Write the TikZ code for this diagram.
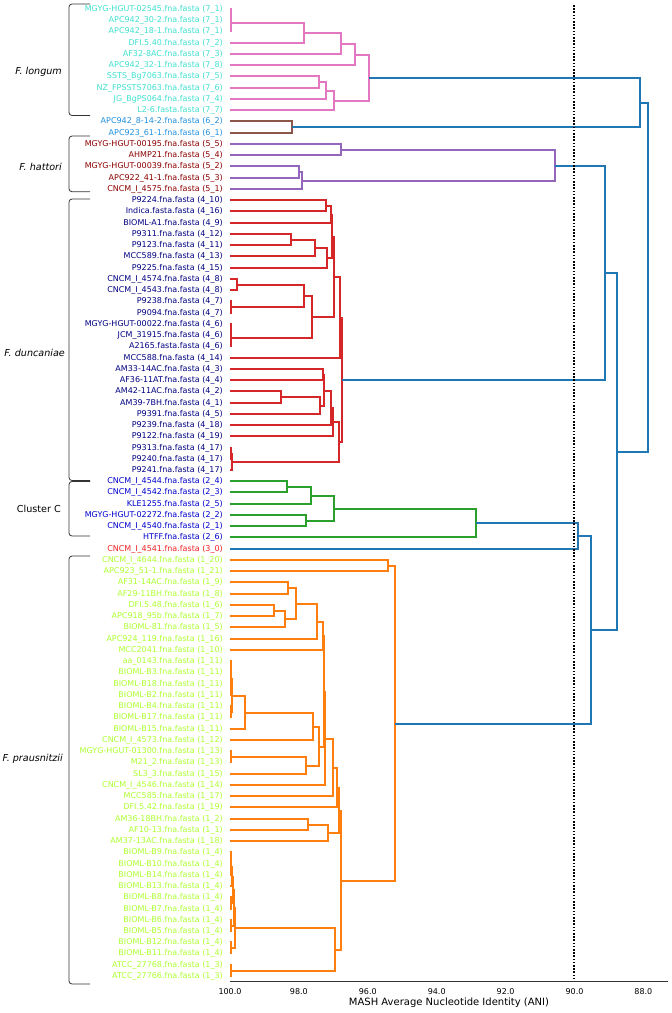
\documentclass[tikz,border=0pt]{standalone}
\usepackage{fontspec}
\setmainfont{DejaVu Sans}
\usetikzlibrary{calc,positioning}
\definecolor{lngtxt}{HTML}{40E0D0}
\definecolor{sixtxt}{HTML}{2090E0}
\definecolor{hattxt}{HTML}{8B0000}
\definecolor{duntxt}{HTML}{000080}
\definecolor{clctxt}{HTML}{0000CD}
\definecolor{thrtxt}{HTML}{F02020}
\definecolor{prstxt}{HTML}{ADFF2F}
\definecolor{pnk}{HTML}{E377C2}
\definecolor{brn}{HTML}{8C564B}
\definecolor{ppl}{HTML}{9467BD}
\definecolor{rd}{HTML}{D62728}
\definecolor{grn}{HTML}{2CA02C}
\definecolor{org}{HTML}{FF7F0E}
\definecolor{blu}{HTML}{1F77B4}
\definecolor{dkgray}{HTML}{333333}
\tikzset{
  leaf/.style={anchor=east,inner sep=0pt,font=\fontsize{8}{9}\selectfont,text=#1},
  grplbl/.style={anchor=east,inner sep=0pt,font=\fontsize{9.6}{11}\selectfont},
  sp/.style={grplbl,font=\fontsize{9.6}{11}\selectfont\itshape},
  lnk/.style={line width=1.6pt,draw=#1},
  brk/.style={draw=dkgray,line width=0.8pt,rounded corners=3pt},
  axs/.style={draw=dkgray,line width=0.8pt},
  cut/.style={draw=black,line width=1.8pt,dash pattern=on 1.6pt off 1.6pt},
  tck/.style={inner sep=0pt,font=\fontsize{8}{9}\selectfont},
}
% one U-shaped link: name, child, child, x, colour
\newcommand{\mrg}[5]{%
  \path let \p1=(#2), \p2=(#3), \n1={round(0.5*(\y1+\y2))} in
    coordinate (#1) at ({round(#4)*1pt},{\n1*1pt});
  \draw[lnk=#5] (#2) -| (#1) |- (#3);
}
% one leaf: index, text, colour
\newcommand{\lf}[3]{%
  \node[leaf=#3] (t#1) at (223,{round(9+11.244*#1)}) {#2};
  \coordinate (l#1) at (230,{round(9+11.244*#1)});
}

\begin{document}
\begin{tikzpicture}[x=1pt,y=-1pt]
  \useasboundingbox (0,0) rectangle (672,1013);

  % leaf labels
  \foreach \t [count=\i from 0] in {MGYG-HGUT-02545.fna.fasta (7\_1),APC942\_30-2.fna.fasta (7\_1),
      APC942\_18-1.fna.fasta (7\_1),DFI.5.40.fna.fasta (7\_2),AF32-8AC.fna.fasta (7\_3),
      APC942\_32-1.fna.fasta (7\_8),SSTS\_Bg7063.fna.fasta (7\_5),NZ\_FPSSTS7063.fna.fasta (7\_6),
      JG\_BgPS064.fna.fasta (7\_4),L2-6.fasta.fasta (7\_7)}
    {\lf{\i}{\t}{lngtxt}}
  \foreach \t [count=\i from 10] in {APC942\_8-14-2.fna.fasta (6\_2),APC923\_61-1.fna.fasta (6\_1)}
    {\lf{\i}{\t}{sixtxt}}
  \foreach \t [count=\i from 12] in {MGYG-HGUT-00195.fna.fasta (5\_5),AHMP21.fna.fasta (5\_4),
      MGYG-HGUT-00039.fna.fasta (5\_2),APC922\_41-1.fna.fasta (5\_3),CNCM\_I\_4575.fna.fasta (5\_1)}
    {\lf{\i}{\t}{hattxt}}
  \foreach \t [count=\i from 17] in {P9224.fna.fasta (4\_10),Indica.fasta.fasta (4\_16),
      BIOML-A1.fna.fasta (4\_9),P9311.fna.fasta (4\_12),P9123.fna.fasta (4\_11),
      MCC589.fna.fasta (4\_13),P9225.fna.fasta (4\_15),CNCM\_I\_4574.fna.fasta (4\_8),
      CNCM\_I\_4543.fna.fasta (4\_8),P9238.fna.fasta (4\_7),P9094.fna.fasta (4\_7),
      MGYG-HGUT-00022.fna.fasta (4\_6),JCM\_31915.fna.fasta (4\_6),A2165.fasta.fasta (4\_6),
      MCC588.fna.fasta (4\_14),AM33-14AC.fna.fasta (4\_3),AF36-11AT.fna.fasta (4\_4),
      AM42-11AC.fna.fasta (4\_2),AM39-7BH.fna.fasta (4\_1),P9391.fna.fasta (4\_5),
      P9239.fna.fasta (4\_18),P9122.fna.fasta (4\_19),P9313.fna.fasta (4\_17),
      P9240.fna.fasta (4\_17),P9241.fna.fasta (4\_17)}
    {\lf{\i}{\t}{duntxt}}
  \foreach \t [count=\i from 42] in {CNCM\_I\_4544.fna.fasta (2\_4),CNCM\_I\_4542.fna.fasta (2\_3),
      KLE1255.fna.fasta (2\_5),MGYG-HGUT-02272.fna.fasta (2\_2),CNCM\_I\_4540.fna.fasta (2\_1),
      HTFF.fna.fasta (2\_6)}
    {\lf{\i}{\t}{clctxt}}
  \lf{48}{CNCM\_I\_4541.fna.fasta (3\_0)}{thrtxt}
  \foreach \t [count=\i from 49] in {CNCM\_I\_4644.fna.fasta (1\_20),APC923\_51-1.fna.fasta (1\_21),
      AF31-14AC.fna.fasta (1\_9),AF29-11BH.fna.fasta (1\_8),DFI.5.48.fna.fasta (1\_6),
      APC918\_95b.fna.fasta (1\_7),BIOML-81.fna.fasta (1\_5),APC924\_119.fna.fasta (1\_16),
      MCC2041.fna.fasta (1\_10),aa\_0143.fna.fasta (1\_11),BIOML-B3.fna.fasta (1\_11),
      BIOML-B18.fna.fasta (1\_11),BIOML-B2.fna.fasta (1\_11),BIOML-B4.fna.fasta (1\_11),
      BIOML-B17.fna.fasta (1\_11),BIOML-B15.fna.fasta (1\_11),CNCM\_I\_4573.fna.fasta (1\_12),
      MGYG-HGUT-01300.fna.fasta (1\_13),M21\_2.fna.fasta (1\_13),SL3\_3.fna.fasta (1\_15),
      CNCM\_I\_4546.fna.fasta (1\_14),MCC585.fna.fasta (1\_17),DFI.5.42.fna.fasta (1\_19),
      AM36-18BH.fna.fasta (1\_2),AF10-13.fna.fasta (1\_1),AM37-13AC.fna.fasta (1\_18),
      BIOML-B9.fna.fasta (1\_4),BIOML-B10.fna.fasta (1\_4),BIOML-B14.fna.fasta (1\_4),
      BIOML-B13.fna.fasta (1\_4),BIOML-B8.fna.fasta (1\_4),BIOML-B7.fna.fasta (1\_4),
      BIOML-B6.fna.fasta (1\_4),BIOML-B5.fna.fasta (1\_4),BIOML-B12.fna.fasta (1\_4),
      BIOML-B11.fna.fasta (1\_4),ATCC\_27768.fna.fasta (1\_3),ATCC\_27766.fna.fasta (1\_3)}
    {\lf{\i}{\t}{prstxt}}

  % F. longum
  \mrg{a1}{l0}{l1}{230.5}{pnk}
  \mrg{a2}{a1}{l2}{230.8}{pnk}
  \mrg{a3}{a2}{l3}{304}{pnk}
  \mrg{a4}{a3}{l4}{341}{pnk}
  \mrg{a5}{a4}{l5}{355}{pnk}
  \mrg{b1}{l6}{l7}{319}{pnk}
  \mrg{b2}{b1}{l8}{325.7}{pnk}
  \mrg{b3}{b2}{l9}{334.3}{pnk}
  \mrg{lng}{a5}{b3}{369.3}{pnk}
  \mrg{six}{l10}{l11}{292.3}{brn}

  % F. hattori
  \mrg{h1}{l12}{l13}{340.5}{ppl}
  \mrg{h2}{l14}{l15}{299}{ppl}
  \mrg{h3}{h2}{l16}{302.3}{ppl}
  \mrg{hat}{h1}{h3}{555}{ppl}

  % F. duncaniae
  \mrg{d1}{l17}{l18}{325.7}{rd}
  \mrg{d2}{d1}{l19}{331}{rd}
  \mrg{d3}{l20}{l21}{290.7}{rd}
  \mrg{d4}{d3}{l22}{315}{rd}
  \mrg{d5}{d4}{l23}{327.3}{rd}
  \mrg{d6}{d2}{d5}{332.3}{rd}
  \mrg{d7}{l24}{l25}{236.7}{rd}
  \mrg{d8}{l26}{l27}{230.5}{rd}
  \mrg{d9}{d7}{d8}{304.3}{rd}
  \mrg{d10}{l28}{l29}{230.5}{rd}
  \mrg{d11}{d10}{l30}{230.8}{rd}
  \mrg{d12}{d9}{d11}{312.3}{rd}
  \mrg{d13}{d6}{d12}{334.3}{rd}
  \mrg{d14}{d13}{l31}{340}{rd}
  \mrg{d15}{l32}{l33}{322.7}{rd}
  \mrg{d16}{l34}{l35}{281}{rd}
  \mrg{d17}{d16}{l36}{320}{rd}
  \mrg{d18}{d15}{d17}{324.3}{rd}
  \mrg{d19}{d18}{l37}{331}{rd}
  \mrg{d20}{d19}{l38}{332.7}{rd}
  \mrg{d21}{l39}{l40}{230.5}{rd}
  \mrg{d22}{d21}{l41}{232.3}{rd}
  \mrg{d23}{d20}{d22}{339.3}{rd}
  \mrg{dun}{d14}{d23}{342.3}{rd}

  % Cluster C
  \mrg{c1}{l42}{l43}{287.3}{grn}
  \mrg{c2}{c1}{l44}{310.7}{grn}
  \mrg{c3}{l45}{l46}{305.7}{grn}
  \mrg{c4}{c2}{c3}{333.7}{grn}
  \mrg{clc}{c4}{l47}{476}{grn}

  % F. prausnitzii
  \mrg{p1}{l49}{l50}{387.7}{org}
  \mrg{p2}{l51}{l52}{288.3}{org}
  \mrg{p3}{l53}{l54}{273.7}{org}
  \mrg{p4}{p3}{l55}{285}{org}
  \mrg{p5}{p2}{p4}{296}{org}
  \mrg{p6}{p5}{l56}{317.3}{org}
  \mrg{p7}{p6}{l57}{322.7}{org}
  \mrg{q1}{l58}{l59}{230.5}{org}
  \mrg{q2}{l60}{l61}{230.5}{org}
  \mrg{q3}{q1}{q2}{231}{org}
  \mrg{q4}{l62}{l63}{230.5}{org}
  \mrg{q5}{q3}{q4}{231.5}{org}
  \mrg{q6}{q5}{l64}{245}{org}
  \mrg{q7}{q6}{l65}{313.3}{org}
  \mrg{q8}{l66}{l67}{230.5}{org}
  \mrg{q9}{q8}{l68}{306}{org}
  \mrg{q10}{q7}{q9}{318.7}{org}
  \mrg{q11}{p7}{q10}{323.7}{org}
  \mrg{q12}{q11}{l69}{325}{org}
  \mrg{q13}{q12}{l70}{333.3}{org}
  \mrg{q14}{q13}{l71}{336.5}{org}
  \mrg{s1}{l72}{l73}{308.3}{org}
  \mrg{s2}{s1}{l74}{328.3}{org}
  \mrg{q15}{q14}{s2}{339}{org}
  \mrg{e1}{l75}{l76}{230.7}{org}
  \mrg{e2}{e1}{l77}{231.3}{org}
  \mrg{e3}{e2}{l78}{232}{org}
  \mrg{e4}{l79}{l80}{230.7}{org}
  \mrg{e5}{e3}{e4}{232.7}{org}
  \mrg{e6}{l81}{l82}{230.7}{org}
  \mrg{e7}{e5}{e6}{233.5}{org}
  \mrg{e8}{l83}{l84}{230.7}{org}
  \mrg{e9}{e7}{e8}{234.5}{org}
  \mrg{atc}{l85}{l86}{230.5}{org}
  \mrg{q16}{e9}{atc}{335}{org}
  \mrg{q17}{q15}{q16}{341}{org}
  \mrg{prs}{p1}{q17}{394.5}{org}

  % links above the cut
  \mrg{r1}{lng}{six}{640}{blu}
  \mrg{r2}{hat}{dun}{605}{blu}
  \mrg{r3}{clc}{l48}{578.3}{blu}
  \mrg{r4}{r3}{prs}{591}{blu}
  \mrg{r5}{r2}{r4}{617.3}{blu}
  \mrg{r6}{r1}{r5}{647.7}{blu}

  % 90% cut and axis
  \coordinate (cuttop) at (574,5);
  \coordinate (cutbot) at (574,981.5);
  \draw[cut] (cuttop) -- (cutbot);
  \coordinate (ax0) at (230,981.5);
  \coordinate (ax1) at (668,981.5);
  \draw[axs] (ax0) -- (ax1);
  \foreach \v in {100,98,...,88}
    \node[tck] (tk\v) at ({230+(100-\v)*34.45},991.7) {\v.0};
  \node[font=\fontsize{10}{12}\selectfont] (xlab) at (449,1003) {MASH Average Nucleotide Identity (ANI)};

  % species brackets
  \draw[brk] (90,4) -- (69,4) -- (69,115.5) -- (90,115.5);
  \node[sp] (nlng) at (62,72) {F. longum};
  \draw[brk] (90,136) -- (69,136) -- (69,191.7) -- (90,191.7);
  \node[sp] (nhat) at (62,167) {F. hattori};
  \draw[brk] (90,199) -- (69,199) -- (69,480.5) -- (90,480.5);
  \node[sp] (ndun) at (65,352.7) {F. duncaniae};
  \draw[brk] (90,481.5) -- (69,481.5) -- (69,536) -- (90,536);
  \node[grplbl] (nclc) at (61,509.3) {Cluster C};
  \draw[brk] (90,556) -- (69,556) -- (69,984) -- (90,984);
  \node[sp] (nprs) at (63,758.7) {F. prausnitzii};
\end{tikzpicture}
\end{document}
